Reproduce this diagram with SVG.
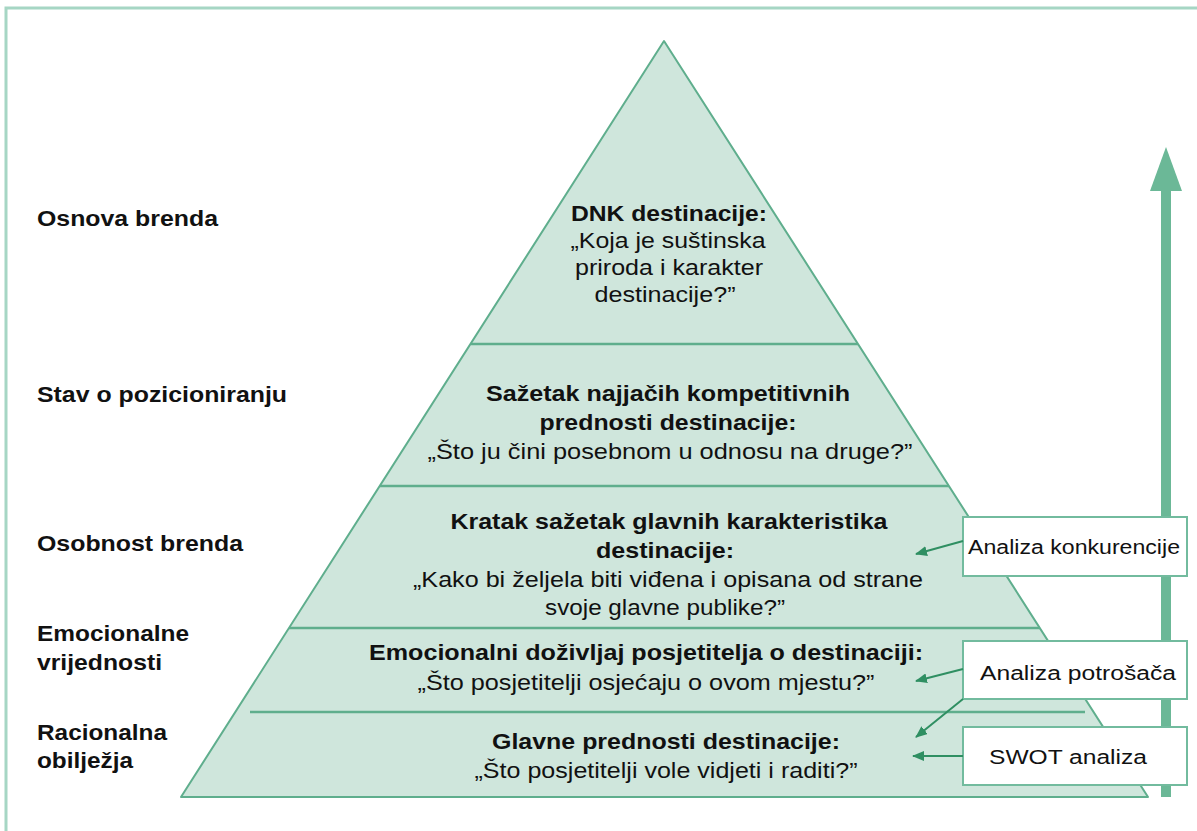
<svg xmlns="http://www.w3.org/2000/svg" width="1197" height="831" viewBox="0 0 1197 831">
<defs>
<style>
text{font-family:"Liberation Sans",Arial,sans-serif;fill:#111;}
.lab{font-size:22px;font-weight:bold;}
.b{font-size:22px;font-weight:bold;text-anchor:middle;}
.r{font-size:22px;text-anchor:middle;}
.bx{font-size:20px;}
.tier{fill:#cfe6dc;stroke:#5fae8d;stroke-width:2;stroke-linejoin:round;}
.div{stroke:#5fae8d;stroke-width:2.5;fill:none;}
.box{fill:#fff;stroke:#72bb9e;stroke-width:2;}
.sa{stroke:#2f8f62;stroke-width:2;fill:none;marker-end:url(#ah);}
</style>
<marker id="ah" viewBox="0 0 12 10" refX="11" refY="5" markerWidth="12" markerHeight="10" markerUnits="userSpaceOnUse" orient="auto">
<path d="M0,0 L12,5 L0,10 Z" fill="#2f8f62"/>
</marker>
</defs>
<rect width="1197" height="831" fill="#fff"/>
<path d="M6,831 V8 H1197" fill="none" stroke="#a6d6c4" stroke-width="3"/>

<g id="big-arrow">
<rect x="1161" y="189" width="10" height="608" fill="#6bb897"/>
<path d="M1166,147 L1182,191 L1150,191 Z" fill="#6bb897"/>
</g>

<g id="pyramid">
<path class="tier" d="M664,41 L1148,797 L181,797 Z"/>
<path class="div" d="M471,344 H858 M380,486 H949 M289,628 H1040 M250,712 H1085"/>
</g>

<g id="tier-dnk">
<text class="b" x="669" y="221" textLength="196" lengthAdjust="spacingAndGlyphs">DNK destinacije:</text>
<text class="r" x="668" y="248" textLength="195" lengthAdjust="spacingAndGlyphs">„Koja je suštinska</text>
<text class="r" x="669" y="275" textLength="188" lengthAdjust="spacingAndGlyphs">priroda i karakter</text>
<text class="r" x="665" y="302" textLength="141" lengthAdjust="spacingAndGlyphs">destinacije?”</text>
</g>
<g id="tier-pozicioniranje">
<text class="b" x="668" y="401" textLength="364" lengthAdjust="spacingAndGlyphs">Sažetak najjačih kompetitivnih</text>
<text class="b" x="668" y="430" textLength="257" lengthAdjust="spacingAndGlyphs">prednosti destinacije:</text>
<text class="r" x="670" y="459" textLength="485" lengthAdjust="spacingAndGlyphs">„Što ju čini posebnom u odnosu na druge?”</text>
</g>
<g id="tier-osobnost">
<text class="b" x="669" y="529" textLength="437" lengthAdjust="spacingAndGlyphs">Kratak sažetak glavnih karakteristika</text>
<text class="b" x="665" y="558" textLength="138" lengthAdjust="spacingAndGlyphs">destinacije:</text>
<text class="r" x="668" y="587" textLength="510" lengthAdjust="spacingAndGlyphs">„Kako bi željela biti viđena i opisana od strane</text>
<text class="r" x="665" y="615" textLength="240" lengthAdjust="spacingAndGlyphs">svoje glavne publike?”</text>
</g>
<g id="tier-emocionalne">
<text class="b" x="646" y="660" textLength="554" lengthAdjust="spacingAndGlyphs">Emocionalni doživljaj posjetitelja o destinaciji:</text>
<text class="r" x="646" y="690" textLength="457" lengthAdjust="spacingAndGlyphs">„Što posjetitelji osjećaju o ovom mjestu?”</text>
</g>
<g id="tier-racionalna">
<text class="b" x="666" y="749" textLength="348" lengthAdjust="spacingAndGlyphs">Glavne prednosti destinacije:</text>
<text class="r" x="666" y="778" textLength="383" lengthAdjust="spacingAndGlyphs">„Što posjetitelji vole vidjeti i raditi?”</text>
</g>

<g id="labels">
<text class="lab" x="37" y="226" textLength="181" lengthAdjust="spacingAndGlyphs">Osnova brenda</text>
<text class="lab" x="37" y="402" textLength="250" lengthAdjust="spacingAndGlyphs">Stav o pozicioniranju</text>
<text class="lab" x="37" y="551" textLength="206" lengthAdjust="spacingAndGlyphs">Osobnost brenda</text>
<text class="lab" x="37" y="641" textLength="152" lengthAdjust="spacingAndGlyphs">Emocionalne</text>
<text class="lab" x="37" y="670" textLength="125" lengthAdjust="spacingAndGlyphs">vrijednosti</text>
<text class="lab" x="37" y="740" textLength="130" lengthAdjust="spacingAndGlyphs">Racionalna</text>
<text class="lab" x="37" y="768" textLength="96" lengthAdjust="spacingAndGlyphs">obilježja</text>
</g>

<g id="box-konkurencija">
<rect class="box" x="963" y="517" width="224" height="59"/>
<text class="bx" x="968" y="554" textLength="212" lengthAdjust="spacingAndGlyphs">Analiza konkurencije</text>
</g>
<g id="box-potrosaci">
<rect class="box" x="963" y="641" width="224" height="58"/>
<text class="bx" x="980" y="680" textLength="196" lengthAdjust="spacingAndGlyphs">Analiza potrošača</text>
</g>
<g id="box-swot">
<rect class="box" x="963" y="727" width="224" height="58"/>
<text class="bx" x="989" y="764" textLength="158" lengthAdjust="spacingAndGlyphs">SWOT analiza</text>
</g>

<g id="connectors">
<line class="sa" x1="963" y1="541" x2="916" y2="554"/>
<line class="sa" x1="963" y1="669" x2="916" y2="681"/>
<line class="sa" x1="963" y1="699" x2="916" y2="737"/>
<line class="sa" x1="963" y1="756" x2="913" y2="756"/>
</g>
</svg>
